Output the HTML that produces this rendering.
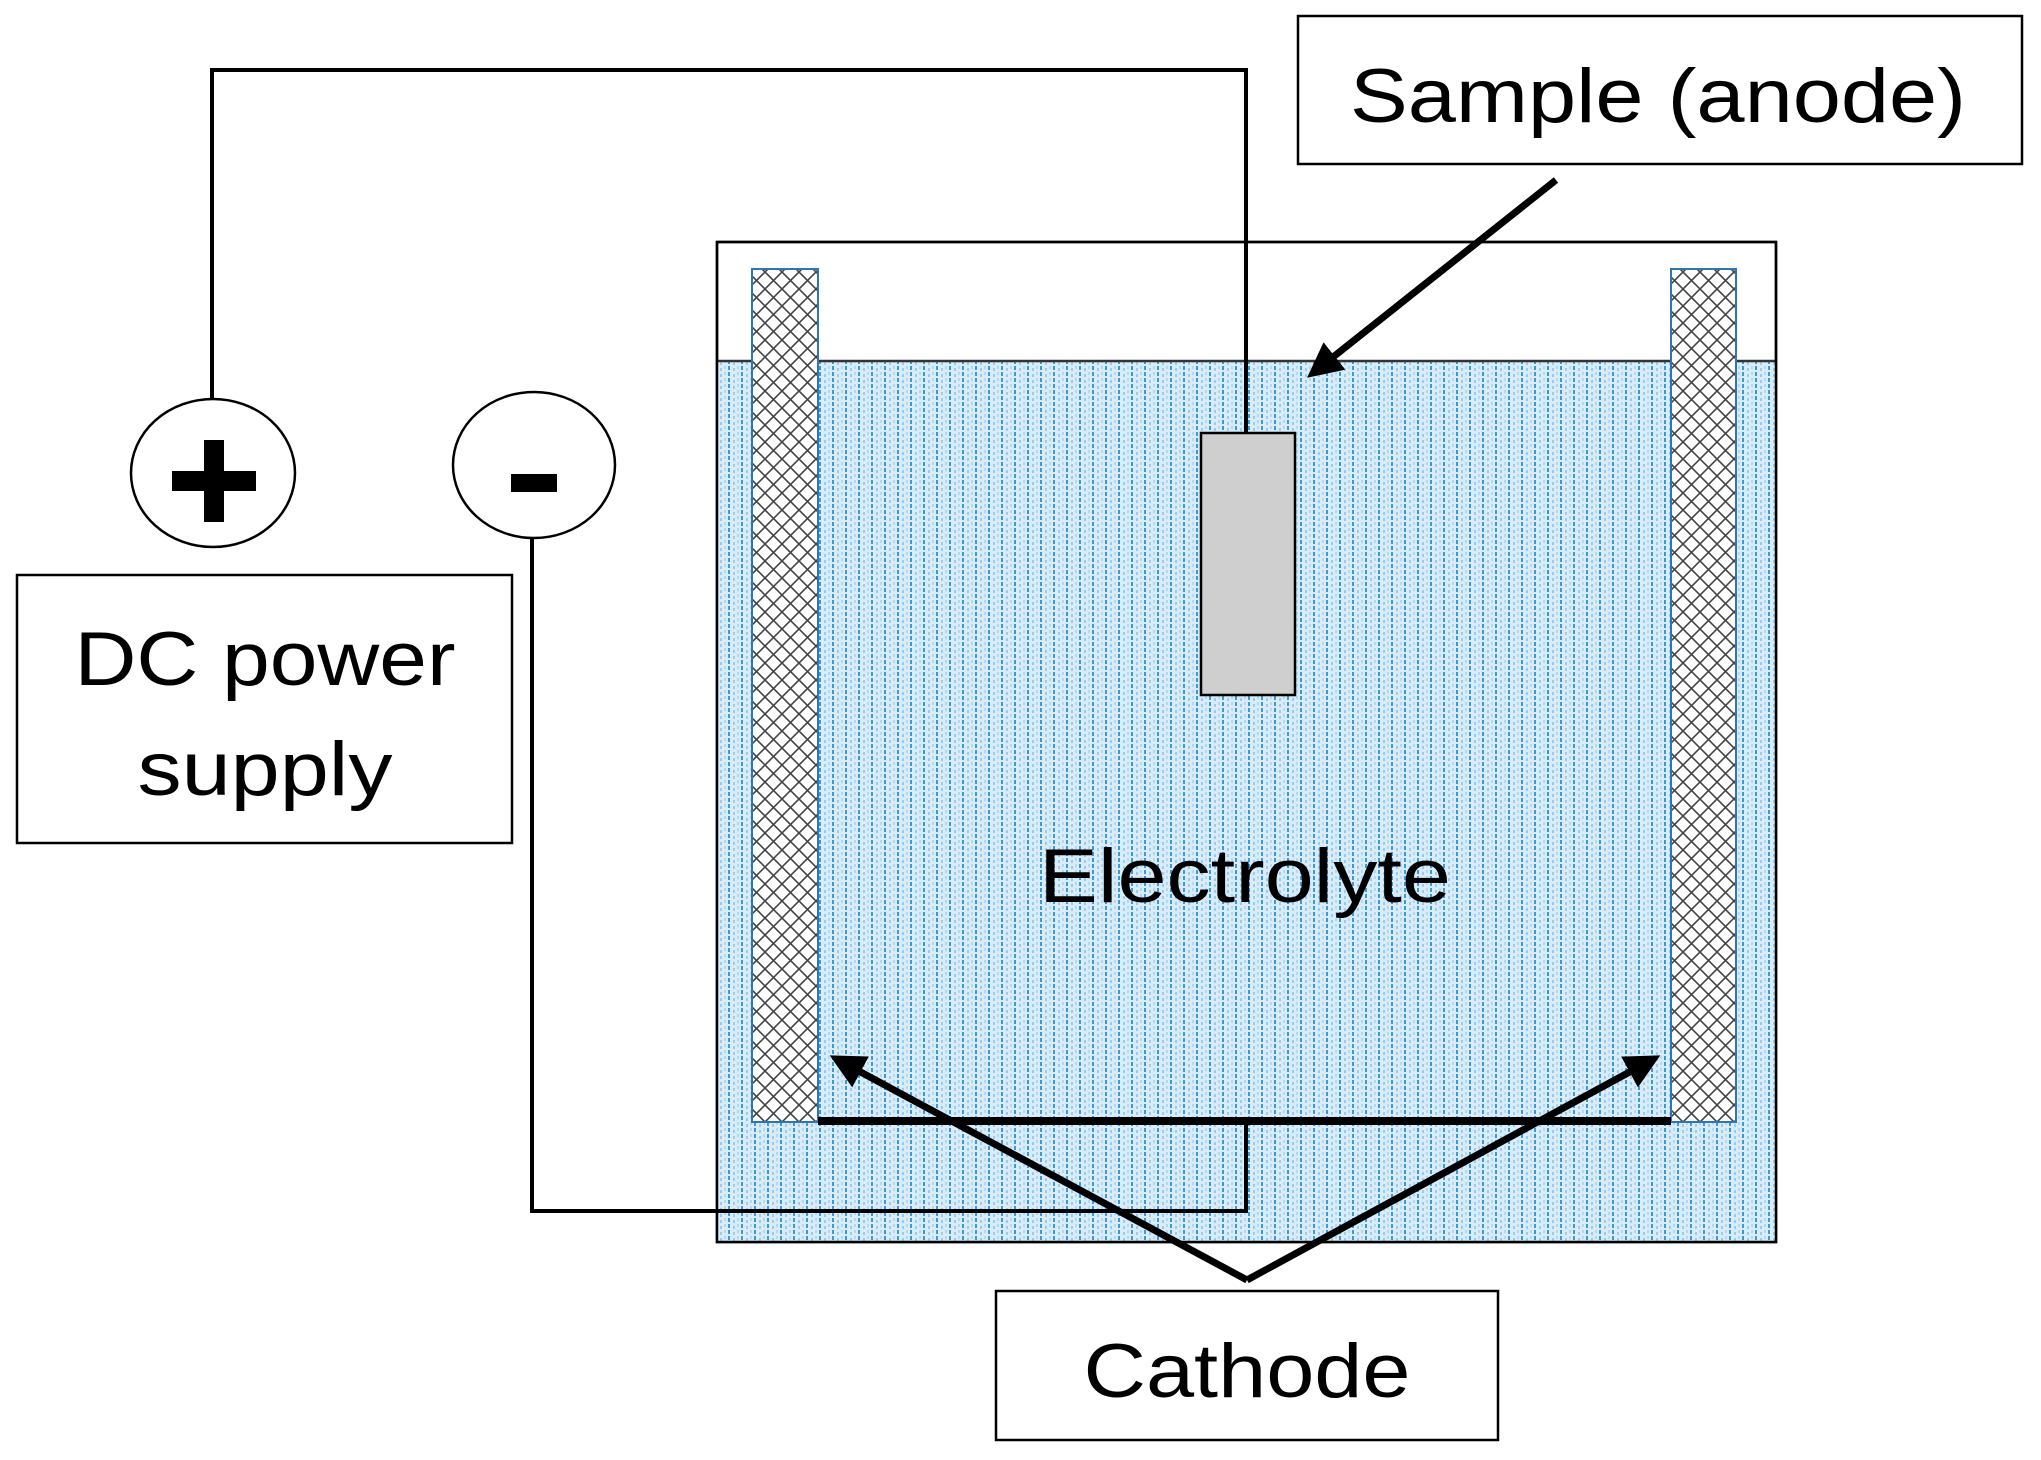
<!DOCTYPE html>
<html><head><meta charset="utf-8"><style>
html,body{margin:0;padding:0;background:#fff}
svg{display:block}
text{font-family:"Liberation Sans",sans-serif;fill:#000}
</style></head><body>
<svg width="2041" height="1460" viewBox="0 0 2041 1460" xmlns="http://www.w3.org/2000/svg">
<defs>
<pattern id="water" width="13" height="6" patternUnits="userSpaceOnUse">
<rect width="13" height="6" fill="#d8ecf9"/>
<rect x="0" y="0" width="2" height="4" fill="#3d9ad9"/>
<rect x="5" y="2" width="2" height="3" fill="#9ccbee"/>
<rect x="9" y="0" width="2" height="3" fill="#b3d8f2"/>
</pattern>
<pattern id="hatch" width="17" height="17" patternUnits="userSpaceOnUse">
<rect width="17" height="17" fill="#fff"/>
<path d="M0,0 L17,17 M17,0 L0,17" stroke="#444" stroke-width="1.6"/>
</pattern>
<marker id="ah" markerWidth="5" markerHeight="5" refX="3" refY="2.5" orient="auto" markerUnits="strokeWidth">
<path d="M0,0 L5,2.5 L0,5 z" fill="#000"/>
</marker>
</defs>
<rect x="717" y="242" width="1059" height="1000" fill="#fff" stroke="#000" stroke-width="2.5"/>
<rect x="718" y="361" width="1057" height="880" fill="url(#water)"/>
<line x1="717" y1="361" x2="1776" y2="361" stroke="#333" stroke-width="2.5"/>
<rect x="717" y="242" width="1059" height="1000" fill="none" stroke="#000" stroke-width="2.5"/>
<rect x="752" y="269" width="66" height="853" fill="url(#hatch)" stroke="#2e75b6" stroke-width="2"/>
<rect x="1671" y="269" width="65" height="853" fill="url(#hatch)" stroke="#2e75b6" stroke-width="2"/>
<line x1="818" y1="1121" x2="1671" y2="1121" stroke="#000" stroke-width="8"/>
<polyline points="1246,1121 1246,1211 532,1211 532,538" fill="none" stroke="#000" stroke-width="4"/>
<polyline points="212,400 212,70 1246,70 1246,433" fill="none" stroke="#000" stroke-width="4"/>
<rect x="1201" y="433" width="94" height="262" fill="#d0cfcf" stroke="#000" stroke-width="2.5"/>
<ellipse cx="213" cy="473" rx="82" ry="74" fill="#fff" stroke="#000" stroke-width="2.5"/>
<rect x="172" y="471" width="84" height="20" fill="#000"/>
<rect x="204" y="440" width="20" height="82" fill="#000"/>
<ellipse cx="534" cy="465" rx="81" ry="73" fill="#fff" stroke="#000" stroke-width="2.5"/>
<rect x="511" y="474" width="46" height="18" fill="#000"/>
<rect x="17" y="575" width="495" height="268" fill="#fff" stroke="#000" stroke-width="2.5"/>
<text x="265" y="685" font-size="76" text-anchor="middle" textLength="381" lengthAdjust="spacingAndGlyphs">DC power</text>
<text x="265" y="795" font-size="76" text-anchor="middle" textLength="255" lengthAdjust="spacingAndGlyphs">supply</text>
<rect x="1298" y="16" width="724" height="148" fill="#fff" stroke="#000" stroke-width="2.5"/>
<text x="1658" y="122" font-size="76" text-anchor="middle" textLength="616" lengthAdjust="spacingAndGlyphs">Sample (anode)</text>
<line x1="1556" y1="180" x2="1318" y2="369" stroke="#000" stroke-width="7" marker-end="url(#ah)"/>
<text x="1245" y="902" font-size="76" text-anchor="middle" textLength="412" lengthAdjust="spacingAndGlyphs">Electrolyte</text>
<rect x="996" y="1291" width="502" height="149" fill="#fff" stroke="#000" stroke-width="2.5"/>
<text x="1247" y="1397" font-size="76" text-anchor="middle" textLength="327" lengthAdjust="spacingAndGlyphs">Cathode</text>
<line x1="1247" y1="1280" x2="842" y2="1062" stroke="#000" stroke-width="7" marker-end="url(#ah)"/>
<line x1="1247" y1="1280" x2="1648" y2="1062" stroke="#000" stroke-width="7" marker-end="url(#ah)"/>
</svg>
</body></html>
